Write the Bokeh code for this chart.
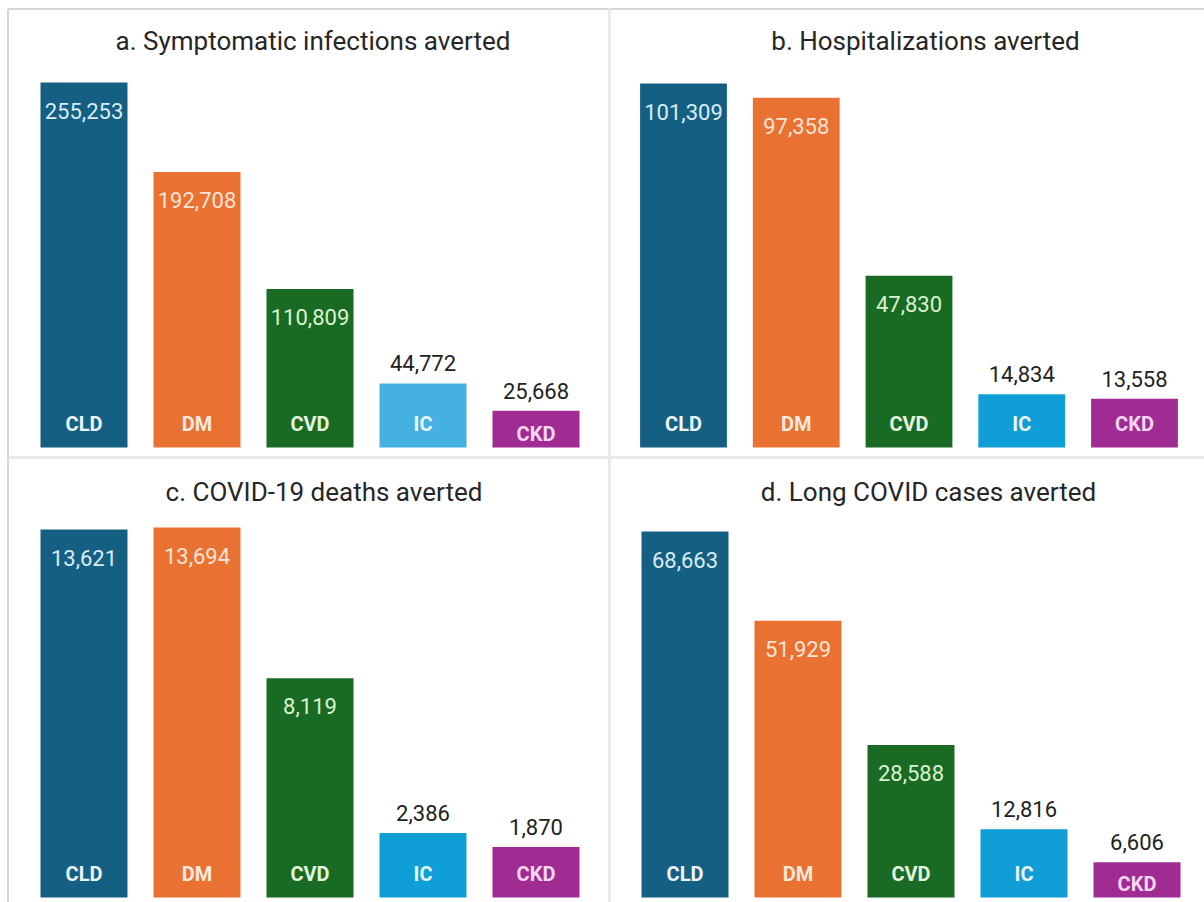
from bokeh.plotting import figure
from bokeh.models import ColumnDataSource, Range1d, Label
from bokeh.layouts import column, row
from bokeh.core.properties import value
from bokeh.embed import file_html
from bokeh.resources import INLINE

# ---------------- data ----------------
categories = ["CLD", "DM", "CVD", "IC", "CKD"]

titles = [
    "a. Symptomatic infections averted",
    "b. Hospitalizations averted",
    "c. COVID-19 deaths averted",
    "d. Long COVID cases averted",
]

symptomatic_infections = [255253, 192708, 110809, 44772, 25668]
hospitalizations = [101309, 97358, 47830, 14834, 13558]
covid_deaths = [13621, 13694, 8119, 2386, 1870]
long_covid_cases = [68663, 51929, 28588, 12816, 6606]

# ---------------- styles ----------------
bar_colors = ["#156082", "#E97132", "#196B24", "#0F9ED5", "#A02B93"]
bar_colors_a = ["#156082", "#E97132", "#196B24", "#45B1E1", "#A02B93"]
inside_value_colors = ["#D7ECF6", "#FCE4D6", "#D9F2D0", "#FFFFFF", "#FFFFFF"]
category_label_colors = ["#EEF4F8", "#FDE9DE", "#E4F4DE", "#EAF7FD", "#F6D6F1"]
outside_value_color = "#222222"
title_color = "#262626"
border_color = "#D6D6D6"
FONT = "Roboto"

# panel layout: width, height, baseline px from bottom, px height of first bar,
# px centre of first bar, px spacing of bars, title x (px), title centre from top (px),
# border lines as (px, width) pairs
panels = [
    dict(values=symptomatic_infections, colors=bar_colors_a, W=609, H=457, base=10, ref_px=365,
         c0=83.5, step=113.0, tx=312.5, tty=40,
         vlines=[(7.5, 2), (609, 2)], hlines=[(8.5, 2), (457, 2)]),
    dict(values=hospitalizations, colors=bar_colors, W=595, H=457, base=10, ref_px=364,
         c0=74.0, step=112.75, tx=316, tty=40,
         vlines=[(0, 2)], hlines=[(8.5, 2), (457, 2)]),
    dict(values=covid_deaths, colors=bar_colors, W=609, H=445, base=5, ref_px=368,
         c0=83.5, step=113.0, tx=323.5, tty=34,
         vlines=[(7.5, 2), (609, 2)], hlines=[(0, 2)]),
    dict(values=long_covid_cases, colors=bar_colors, W=595, H=445, base=5, ref_px=366,
         c0=75.5, step=113.0, tx=319, tty=34,
         vlines=[(0, 2)], hlines=[(0, 2)]),
]

BAR_W = 0.77
INSIDE_PX = 28      # value label centre below bar top
OUTSIDE_PX = 20     # value label centre above bar top
CAT_PX = 24         # category label centre above baseline
CAT_PX_SHORT = 14   # for short bars
INSIDE_MIN_PX = 100
SHORT_BAR_PX = 48


def make_panel(title, cfg):
    vals = cfg["values"]
    upp = vals[0] / cfg["ref_px"]  # data units per pixel (y)
    W, H, base = cfg["W"], cfg["H"], cfg["base"]
    step = cfg["step"]
    x0 = -cfg["c0"] / step
    x1 = x0 + W / step
    y0 = -base * upp
    y1 = (H - base) * upp

    def X(px):
        return x0 + px / step

    def Y(px_from_top):
        return y1 - px_from_top * upp

    p = figure(width=W, height=H, x_range=Range1d(x0, x1), y_range=Range1d(y0, y1),
               output_backend="svg", toolbar_location=None, title=None,
               x_axis_location=None, y_axis_location=None, min_border=0,
               outline_line_color=None, background_fill_color="white",
               border_fill_color="white")
    p.grid.visible = False

    # panel border lines
    left_px = min(px for px, _ in cfg["vlines"]) if any(px > 0 for px, _ in cfg["vlines"]) else 0
    top_px = min(px for px, _ in cfg["hlines"])
    for px, lw in cfg["vlines"]:
        p.segment(x0=X(px), y0=Y(top_px), x1=X(px), y1=Y(H + 5),
                  line_color=border_color, line_width=lw)
    for px, lw in cfg["hlines"]:
        p.segment(x0=X(left_px), y0=Y(px), x1=X(W + 5), y1=Y(px),
                  line_color=border_color, line_width=lw)

    idx = list(range(len(categories)))
    src = ColumnDataSource(dict(x=idx, top=vals, color=cfg["colors"]))
    p.vbar(x="x", top="top", bottom=0, width=BAR_W, fill_color="color",
           line_color=None, source=src)

    # value labels
    vy, vc = [], []
    for i, v in enumerate(vals):
        px = v / upp
        if px > INSIDE_MIN_PX:
            vy.append(v - INSIDE_PX * upp)
            vc.append(inside_value_colors[i])
        else:
            vy.append(v + OUTSIDE_PX * upp)
            vc.append(outside_value_color)
    vsrc = ColumnDataSource(dict(x=idx, y=vy, t=[f"{v:,}" for v in vals], c=vc))
    p.text(x="x", y="y", text="t", text_color="c", source=vsrc, text_align="center",
           text_baseline="middle", text_font=value(FONT), text_font_size="22px")

    # category labels inside bars
    cy = []
    for v in vals:
        px = v / upp
        cy.append((CAT_PX if px >= SHORT_BAR_PX else CAT_PX_SHORT) * upp)
    csrc = ColumnDataSource(dict(x=idx, y=cy, t=categories, c=category_label_colors))
    p.text(x="x", y="y", text="t", text_color="c", source=csrc, text_align="center",
           text_baseline="middle", text_font=value(FONT), text_font_size="20px",
           text_font_style="bold")

    # title
    p.add_layout(Label(x=cfg["tx"], y=H - cfg["tty"], x_units="screen", y_units="screen",
                       text=title, text_align="center", text_baseline="middle",
                       text_font=FONT, text_font_size="26px", text_color=title_color))
    return p


figs = [make_panel(t, c) for t, c in zip(titles, panels)]
layout = column(row(figs[0], figs[1]), row(figs[2], figs[3]))

open("out.html", "w").write(file_html(layout, INLINE))
